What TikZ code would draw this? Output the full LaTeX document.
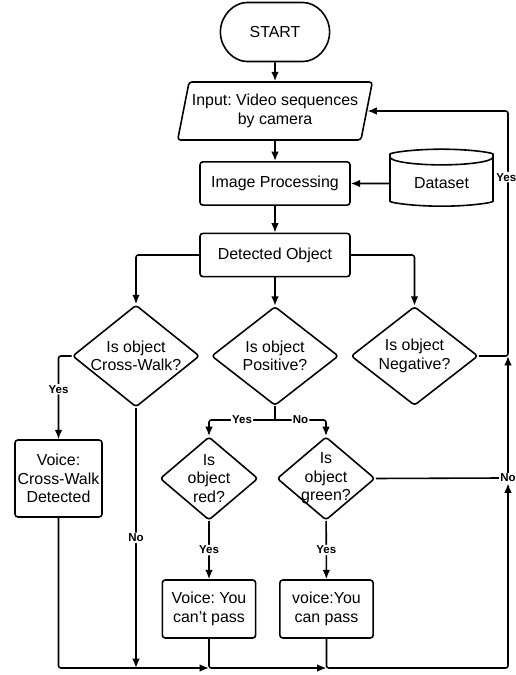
\documentclass[tikz,border=0pt]{standalone}
\usepackage{fontspec}
\setmainfont{Liberation Sans}
\usetikzlibrary{arrows.meta,shapes.geometric,shapes.misc}
\tikzset{>={Latex[length=8pt,width=6.5pt]}}
\tikzset{
  base/.style={draw,line width=1.35pt,align=center,rounded corners=2.5pt,font=\fontsize{13.6}{15.8}\selectfont},
  termbox/.style={base,rounded rectangle,minimum width=3.51cm,minimum height=1.77cm},
  iobox/.style={base,trapezium,trapezium left angle=75,trapezium right angle=105,trapezium stretches=true,minimum width=5.85cm,minimum height=1.74cm,inner xsep=0pt},
  procbox/.style={base,rectangle,minimum width=4.5cm,minimum height=1.3cm},
  dbbox/.style={base,cylinder,shape border rotate=90,aspect=0.25,minimum width=3.09cm,minimum height=1.71cm},
  decbox/.style={base,diamond,inner sep=-4pt,minimum width=3.81cm,minimum height=2.97cm},
  smalldec/.style={base,diamond,inner sep=-4pt,minimum width=2.94cm,minimum height=2.5cm},
  voicebox/.style={base,rectangle,inner sep=0.5pt,minimum width=2.8cm,minimum height=1.74cm},
  flow/.style={line width=1.35pt,rounded corners=2pt},
  lab/.style={fill=white,inner sep=1pt,font=\fontsize{9.8}{11}\selectfont\bfseries}
}
\begin{document}
\frenchspacing
\begin{tikzpicture}[x=0.03cm,y=-0.03cm]
\useasboundingbox (0,0) rectangle (516,675);
% main column
\node[termbox] (start) at (275,32) {START};
\node[iobox] (input) at (275,111) {Input: Video sequences\\by camera};
\node[procbox] (improc) at (275,183.5) {Image Processing};
\node[dbbox] (data) at (441.5,183.5) {Dataset};
\node[procbox] (detect) at (275,255) {Detected Object};
% decisions
\node[decbox] (crossq) at (136,356) {Is object\\Cross-Walk?};
\node[decbox] (posq) at (275,356) {Is object\\Positive?};
\node[decbox] (negq) at (414.5,356) {Is object\\Negative?};
\node[smalldec] (redq) at (209,478.5) {Is\\object\\red?};
\node[smalldec] (greenq) at (326,478.5) {Is\\object\\green?};
% outputs
\node[voicebox,minimum width=2.61cm,minimum height=2.31cm] (cwvoice) at (58.5,478.5) {Voice:\\Cross-Walk\\Detected};
\node[voicebox] (cantbox) at (209,609) {Voice: You\\can't pass};
\node[voicebox] (canbox) at (326.5,609) {voice:You\\can pass};

\coordinate (split) at (275,420);
\coordinate (bot) at (0,668);
\coordinate (m0) at (crossq.south |- bot);
\coordinate (m1) at (cantbox.south |- bot);
\coordinate (m2) at (canbox.south |- bot);
\coordinate (rb) at (508,668);
\coordinate (negj) at (508,356);
\node[lab] (nolab) at (508,478) {No};

\draw[flow,->] (start) -- (input);
\draw[flow,->] (input) -- (improc);
\draw[flow,->] (data) -- (improc);
\draw[flow,->] (improc) -- (detect);
\draw[flow,->] (detect.west) -| (crossq.north);
\draw[flow,->] (detect) -- (posq);
\draw[flow,->] (detect.east) -| (negq.north);
\draw[flow,->] (crossq.west) -| node[lab,pos=0.7]{Yes} (cwvoice.north);
\draw[flow,->] (crossq.south) -- node[lab]{No} (m0);
\draw[flow] (posq.south) -- (split);
\draw[flow,->] (split) -| node[lab,pos=0.25]{Yes} (redq.north);
\draw[flow,->] (split) -| node[lab,pos=0.25]{No} (greenq.north);
\draw[flow,->] (redq) -- node[lab]{Yes} (cantbox);
\draw[flow,->] (greenq) -- node[lab]{Yes} (canbox);
% bottom return line
\draw[flow,->] (cwvoice.south) |- (m1);
\draw[flow,->] (cantbox.south) |- (m2);
\draw[flow,->] (canbox.south) |- (rb) -- (nolab.south);
\draw[flow] (greenq.east) -- (nolab.west);
\draw[flow,->] (nolab.north) -- (negj);
\draw[flow,->] (negq.east) -- (negj) |- node[lab,pos=0.365,xshift=-1.5pt]{Yes} (input.east);
\end{tikzpicture}
\end{document}
